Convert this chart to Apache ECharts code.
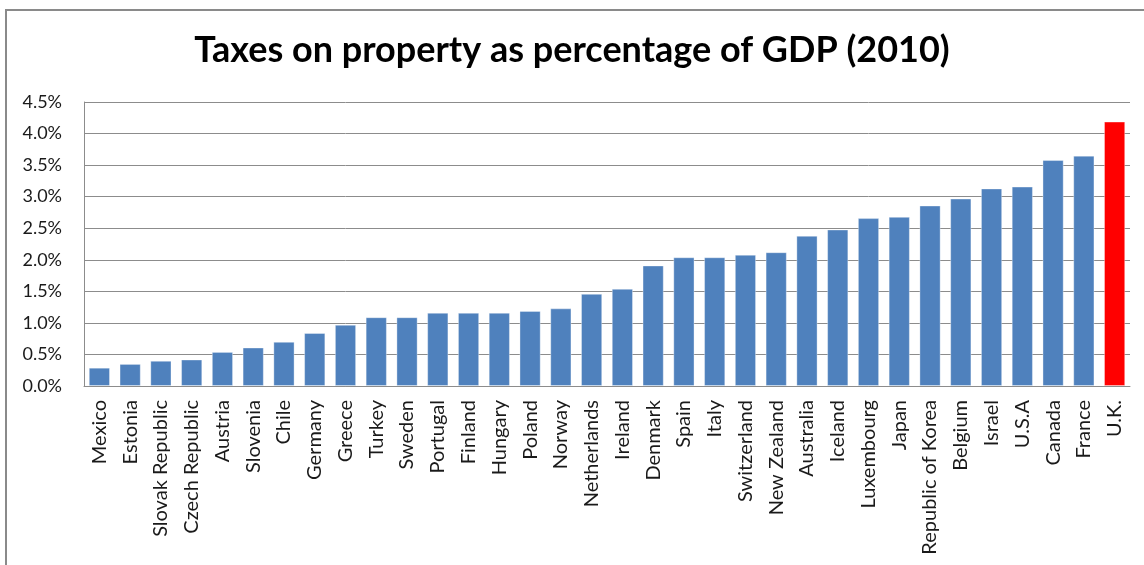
<!DOCTYPE html>
<html>
<head>
<meta charset="utf-8">
<script src="https://cdn.jsdelivr.net/npm/echarts@6/dist/echarts.min.js"></script>
<style>
  html, body { margin: 0; padding: 0; background: #fff; }
  #chart { width: 1144px; height: 565px; }
</style>
</head>
<body>
<div id="chart"></div>
<script>
// Property tax revenue, % of GDP, 2010
const countries = [
  'Mexico', 'Estonia', 'Slovak Republic', 'Czech Republic', 'Austria', 'Slovenia',
  'Chile', 'Germany', 'Greece', 'Turkey', 'Sweden', 'Portugal', 'Finland', 'Hungary',
  'Poland', 'Norway', 'Netherlands', 'Ireland', 'Denmark', 'Spain', 'Italy',
  'Switzerland', 'New Zealand', 'Australia', 'Iceland', 'Luxembourg', 'Japan',
  'Republic of Korea', 'Belgium', 'Israel', 'U.S.A', 'Canada', 'France', 'U.K.'
];
const propertyTaxPct = [
  0.29, 0.35, 0.40, 0.42, 0.54, 0.61,
  0.70, 0.84, 0.97, 1.09, 1.09, 1.16, 1.16, 1.16,
  1.19, 1.23, 1.46, 1.54, 1.91, 2.04, 2.04,
  2.08, 2.12, 2.38, 2.48, 2.66, 2.68,
  2.86, 2.97, 3.13, 3.16, 3.58, 3.65, 4.19
];
const highlighted = ['U.K.'];
const yTicks = { min: 0, max: 4.5, interval: 0.5 };

const baseColor = '#4F81BD';
const highlightColor = '#FF0000';
const font = 'Lato, "Open Sans", sans-serif';

const chart = echarts.init(document.getElementById('chart'), null, { renderer: 'canvas' });

chart.setOption({
  animation: false,
  backgroundColor: '#fff',
  title: {
    text: 'Taxes on property as percentage of GDP (2010)',
    left: 'center',
    top: 27,
    textStyle: { fontFamily: font, fontWeight: 'bold', fontSize: 36, color: '#000' }
  },
  graphic: [{
    type: 'rect',
    shape: { x: 6, y: 10, width: 1160, height: 600 },
    style: { fill: 'none', stroke: '#8a8a8a', lineWidth: 2 },
    silent: true,
    z: -1
  }],
  grid: { left: 84, right: 14, top: 102, bottom: 179, containLabel: false },
  xAxis: {
    type: 'category',
    data: countries,
    axisLine: { show: true, lineStyle: { color: '#8c8c8c', width: 1 } },
    axisTick: { show: false },
    axisLabel: {
      interval: 0,
      rotate: 90,
      margin: 14,
      fontFamily: font,
      fontSize: 20,
      color: '#1a1a1a'
    }
  },
  yAxis: {
    type: 'value',
    min: yTicks.min,
    max: yTicks.max,
    interval: yTicks.interval,
    axisLine: { show: true, lineStyle: { color: '#8c8c8c', width: 1 } },
    axisTick: { show: false },
    splitLine: { show: true, lineStyle: { color: '#8c8c8c', width: 1 } },
    axisLabel: {
      margin: 22,
      fontFamily: font,
      fontSize: 18,
      color: '#1a1a1a',
      formatter: v => v.toFixed(1) + '%'
    }
  },
  series: [{
    type: 'bar',
    barCategoryGap: '31%',
    data: countries.map((c, i) => ({
      value: propertyTaxPct[i],
      itemStyle: { color: highlighted.includes(c) ? highlightColor : baseColor }
    })),
    itemStyle: { borderColor: 'rgba(255,255,255,0.35)', borderWidth: 1 }
  }]
});
</script>
</body>
</html>
